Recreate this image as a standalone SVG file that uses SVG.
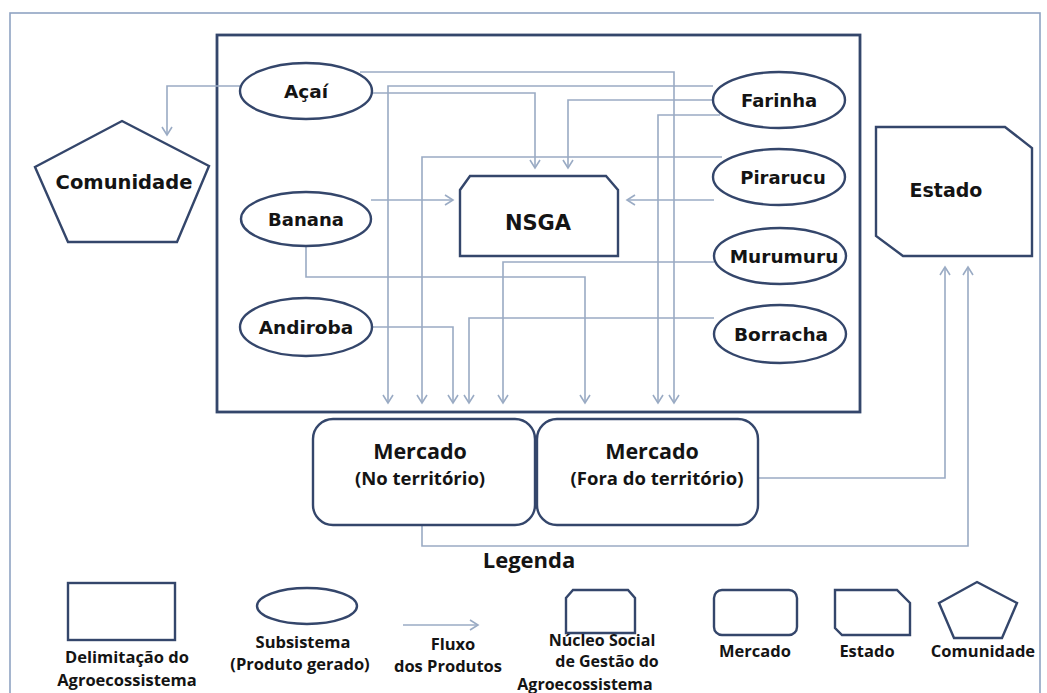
<svg xmlns="http://www.w3.org/2000/svg" width="1047" height="693" viewBox="0 0 1047 693">
  <style>
    .shape { fill: #ffffff; stroke: #34466b; stroke-width: 2.4; }
    .frame { fill: none; stroke: #34466b; stroke-width: 2.8; }
    .flow { fill: none; stroke: #9aabc4; stroke-width: 1.6; }
    .flow-a { fill: none; stroke: #9aabc4; stroke-width: 1.6; marker-end: url(#arrow); }
    .lbl { font-family: "DejaVu Sans", Verdana, sans-serif; font-weight: bold; fill: #141414; text-anchor: middle; }
    .mk { font-family: "Open Sans", "Liberation Sans", sans-serif; font-weight: bold; fill: #141414; text-anchor: middle; }
    .key { font-family: "Open Sans", "Liberation Sans", sans-serif; font-weight: bold; fill: #141414; text-anchor: middle; font-size: 16.5px; }
  </style>
  <defs>
    <marker id="arrow" viewBox="-10 -6 12 12" refX="0" refY="0" markerWidth="12" markerHeight="12" markerUnits="userSpaceOnUse" orient="auto">
      <path d="M -8 -5 L 0 0 L -8 5" fill="none" stroke="#9aabc4" stroke-width="1.6"/>
    </marker>
  </defs>

  <rect x="0" y="0" width="1047" height="693" fill="#ffffff"/>
  <!-- outer border -->
  <rect x="10" y="13" width="1030" height="700" fill="none" stroke="#8fa3c2" stroke-width="1.6"/>

  <!-- agroecosystem boundary -->
  <g id="agroecossistema">
    <rect class="frame" x="217" y="35" width="643" height="377"/>
  </g>

  <!-- connectors -->
  <g id="connectors">
    <!-- Açaí -->
    <path class="flow-a" d="M240 86 H167 V135"/>
    <path class="flow-a" d="M360 72 H674 V403"/>
    <path class="flow-a" d="M372 93 H535 V168"/>
    <!-- Farinha -->
    <path class="flow-a" d="M713 86 H388 V403"/>
    <path class="flow-a" d="M714 100 H568 V168"/>
    <path class="flow-a" d="M720 115 H658 V403"/>
    <!-- Pirarucu -->
    <path class="flow-a" d="M722 157 H422 V403"/>
    <path class="flow-a" d="M714 200 H627"/>
    <!-- Banana -->
    <path class="flow-a" d="M371 200 H453"/>
    <path class="flow-a" d="M306 246 V277 H585 V403"/>
    <!-- Murumuru -->
    <path class="flow-a" d="M714 262 H503 V403"/>
    <!-- Borracha -->
    <path class="flow-a" d="M714 318 H469 V403"/>
    <!-- Andiroba -->
    <path class="flow-a" d="M372 327 H453 V403"/>
    <!-- Mercado to Estado -->
    <path class="flow-a" d="M758 478 H945 V267"/>
    <path class="flow-a" d="M422 525 V546 H968 V267"/>
    <!-- exchange between markets -->
    <path class="flow" d="M503 448 H560 M503 463 H560 M503 477 H560 M503 489 H560"/>
  </g>

  <g id="acai">
    <ellipse class="shape" cx="306" cy="91" rx="66" ry="28"/>
    <text class="lbl" x="306" y="98" font-size="18.5">Açaí</text>
  </g>
  <g id="banana">
    <ellipse class="shape" cx="306" cy="219" rx="65" ry="27"/>
    <text class="lbl" x="306" y="226" font-size="18">Banana</text>
  </g>
  <g id="andiroba">
    <ellipse class="shape" cx="306" cy="327" rx="66" ry="29"/>
    <text class="lbl" x="306" y="334" font-size="18.5">Andiroba</text>
  </g>
  <g id="farinha">
    <ellipse class="shape" cx="779" cy="100" rx="66" ry="28"/>
    <text class="lbl" x="779" y="107" font-size="18">Farinha</text>
  </g>
  <g id="pirarucu">
    <ellipse class="shape" cx="779" cy="177" rx="66" ry="28"/>
    <text class="lbl" x="783" y="184" font-size="18">Pirarucu</text>
  </g>
  <g id="murumuru">
    <ellipse class="shape" cx="780" cy="256" rx="66" ry="28"/>
    <text class="lbl" x="784" y="263" font-size="18.5">Murumuru</text>
  </g>
  <g id="borracha">
    <ellipse class="shape" cx="780" cy="334" rx="66" ry="29"/>
    <text class="lbl" x="781" y="341" font-size="18.5">Borracha</text>
  </g>

  <g id="nsga">
    <polygon class="shape" points="470,176 606,176 618,190 618,256 460,256 460,190"/>
    <text class="lbl" x="538" y="230" font-size="21">NSGA</text>
  </g>

  <g id="comunidade">
    <polygon class="shape" points="122,121 209,166 177,242 68,242 35,167"/>
    <text class="lbl" x="124" y="189" font-size="19.5">Comunidade</text>
  </g>

  <g id="estado">
    <polygon class="shape" points="876,127 1005,127 1032,148 1032,256 903,256 876,236"/>
    <text class="lbl" x="946" y="197" font-size="19">Estado</text>
  </g>

  <g id="mercado-no-territorio">
    <rect class="shape" x="313" y="419" width="222" height="106" rx="20"/>
    <text class="mk" x="420" y="459" font-size="21.5">Mercado</text>
    <text class="mk" x="420" y="485" font-size="18.5">(No território)</text>
  </g>
  <g id="mercado-fora-do-territorio">
    <rect class="shape" x="537" y="419" width="221" height="106" rx="20"/>
    <text class="mk" x="652" y="459" font-size="21.5">Mercado</text>
    <text class="mk" x="657" y="485" font-size="18.5">(Fora do território)</text>
  </g>

  <!-- key -->
  <g id="legenda">
    <text class="mk" x="529" y="568" font-size="22">Legenda</text>

    <rect class="shape" x="68" y="583" width="107" height="57"/>
    <text class="key" x="127" y="663">Delimitação do</text>
    <text class="key" x="127" y="686">Agroecossistema</text>

    <ellipse class="shape" cx="307" cy="606" rx="50" ry="18"/>
    <text class="key" x="303" y="648">Subsistema</text>
    <text class="key" x="300" y="670">(Produto gerado)</text>

    <path class="flow-a" d="M403 625 H478"/>
    <text class="key" x="453" y="650">Fluxo</text>
    <text class="key" x="448" y="672">dos Produtos</text>

    <polygon class="shape" points="573,590 628,590 635,598 635,633 566,633 566,598"/>
    <text class="key" x="602" y="646" font-size="16px" style="font-size:16px">Núcleo Social</text>
    <text class="key" x="607" y="667" style="font-size:16px">de Gestão do</text>
    <text class="key" x="585" y="690" style="font-size:16px">Agroecossistema</text>

    <rect class="shape" x="714" y="590" width="83" height="45" rx="8"/>
    <text class="key" x="755" y="657">Mercado</text>

    <polygon class="shape" points="835,590 897,590 910,603 910,635 842,635 835,628"/>
    <text class="key" x="867" y="657">Estado</text>

    <polygon class="shape" points="977,582 1017,603 1002,638 954,638 939,603"/>
    <text class="key" x="983" y="657">Comunidade</text>
  </g>
</svg>
